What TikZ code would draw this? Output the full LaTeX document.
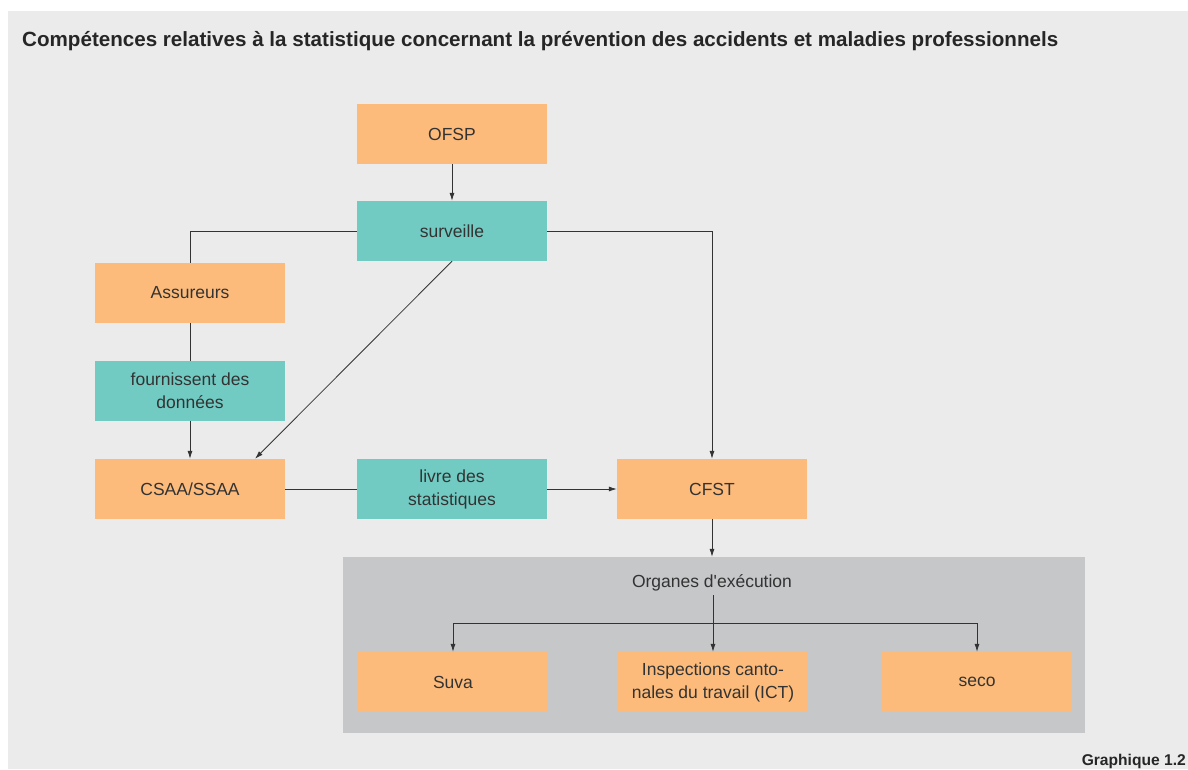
\documentclass[tikz,border=0pt]{standalone}
\usepackage{fontspec}
\setmainfont{Liberation Sans}
\usetikzlibrary{arrows.meta}

\definecolor{bggrey}{HTML}{EAEBEA}
\definecolor{orgorange}{HTML}{FCBB7B}
\definecolor{orgteal}{HTML}{71CBC3}
\definecolor{orggrey}{HTML}{C6C7C9}
\definecolor{txtgrey}{HTML}{333333}

\tikzset{
	box/.style={minimum width=190pt,minimum height=60pt,inner sep=0pt,align=center,text=txtgrey,font=\fontsize{17.5}{23}\selectfont},
	instance/.style={box,fill=orgorange},
	activity/.style={box,fill=orgteal},
	link/.style={draw=txtgrey,line width=0.8pt},
	>={Latex[length=8pt,width=5pt]}
}

\begin{document}
\begin{tikzpicture}[x=1pt,y=-1pt]
	\useasboundingbox (0,0) rectangle (1188,769);
	\fill[bggrey] (8,11) rectangle (1188,769);
	\node[anchor=base west,inner sep=0pt,text=black!85,font=\bfseries\fontsize{20.6}{24}\selectfont] (title) at (22,46) {Compétences relatives à la statistique concernant la prévention des accidents et maladies professionnels};
	\node[anchor=base east,inner sep=0pt,text=black!85,font=\bfseries\fontsize{15.6}{18}\selectfont] (graph) at (1186,765) {Graphique 1.2};
	% upper part
	\node[instance] (ofsp) at (452,134) {OFSP};
	\node[activity] (surv) at (452,231) {surveille};
	\node[instance] (assur) at (190,293) {Assureurs};
	\node[activity] (fourn) at (190,391) {fournissent des\\données};
	\node[instance] (csaa) at (190,489) {CSAA/SSAA};
	\node[activity] (livre) at (452,489) {livre des\\statistiques};
	\node[instance] (cfst) at (712,489) {CFST};
	% organes d'execution
	\node[fill=orggrey,minimum width=742pt,minimum height=176pt,inner sep=0pt] (organes) at (714,645) {};
	\node[text=txtgrey,font=\fontsize{17.5}{23}\selectfont,inner sep=4pt] (orgtitle) at (712,583) {Organes d\textquotesingle exécution};
	\node[instance] (suva) at (453,682) {Suva};
	\node[instance] (ict) at (713,682) {Inspections canto-\\nales du travail (ICT)};
	\node[instance] (seco) at (977,682) {seco};
	\coordinate (fork) at (713,623);

	\draw[link,->] (ofsp) -- (surv);
	\draw[link] (surv.west) -| (assur.north);
	\draw[link] (assur) -- (fourn);
	\draw[link,->] (fourn) -- (csaa);
	\draw[link,->] (surv.south) -- ([xshift=65pt]csaa.north);
	\draw[link,->] (surv.east) -| (cfst.north);
	\draw[link] (csaa) -- (livre);
	\draw[link,->] (livre) -- (cfst);
	\draw[link,->] (cfst.south) -- (cfst.south |- organes.north);
	\draw[link,->] (orgtitle.south -| ict.north) -- (ict.north);
	\foreach \n in {suva,seco}
		\draw[link,->] (fork) -| (\n.north);
\end{tikzpicture}
\end{document}
